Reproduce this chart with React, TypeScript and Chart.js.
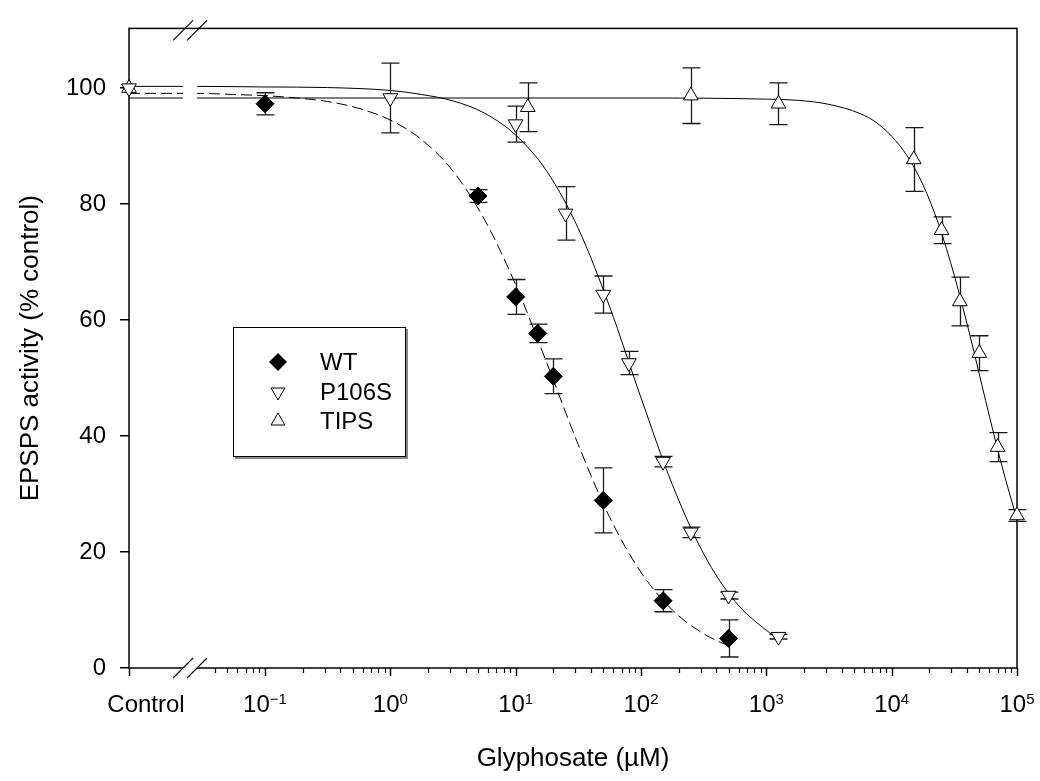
import React, { useEffect, useRef } from "react";
import { Chart, registerables } from "chart.js";

Chart.register(...registerables);

// ---------------- data ----------------
const controlValue = 100;

const wtConc = [0.1, 5, 10, 15, 20, 50, 150, 500];
const wtMean = [97.3, 81.4, 64.0, 57.7, 50.3, 28.9, 11.6, 5.1];
const wtErr = [1.9, 1.1, 3.0, 1.6, 3.0, 5.6, 1.9, 3.2];

const p106sConc = [1, 10, 25, 50, 80, 150, 250, 500, 1250];
const p106sMean = [98.3, 93.8, 78.4, 64.4, 52.6, 35.6, 23.4, 12.5, 5.4];
const p106sErr = [6.0, 3.1, 4.6, 3.2, 2.0, 0.9, 0.9, 0.6, 0.4];

const tipsConc = [12.5, 250, 1250, 15000, 25000, 35000, 50000, 70000, 100000];
const tipsMean = [96.7, 98.7, 97.3, 87.7, 75.5, 63.2, 54.3, 38.1, 26.3];
const tipsErr = [4.2, 4.8, 3.6, 5.5, 2.3, 4.2, 3.0, 2.5, 1.0];

// fitted curves
const wtCurveConc = [0.0287, 0.0562, 0.1, 0.178, 0.316, 0.562, 1, 1.78, 3.16, 5.62, 10, 17.8, 31.6, 56.2, 100, 178, 316, 500];
const wtCurveVal = [99.1, 98.9, 98.7, 98.3, 97.7, 96.5, 94.5, 91.1, 85.7, 77.4, 66.1, 52.5, 38.5, 26.0, 16.5, 10.0, 5.9, 3.8];

const p106sCurveConc = [0.0287, 0.1, 0.316, 1, 1.78, 3.16, 5.62, 10, 17.8, 31.6, 56.2, 100, 178, 316, 562, 1000, 1250];
const p106sCurveVal = [100.3, 100.2, 100.1, 99.6, 98.9, 97.8, 95.7, 91.9, 85.6, 75.8, 62.3, 46.6, 31.6, 19.7, 11.5, 6.5, 5.1];

const tipsCurveConc = [0.0287, 1, 100, 1000, 1780, 3160, 5620, 7500, 10000, 13300, 17800, 23700, 31600, 42200, 56200, 75000, 100000];
const tipsCurveVal = [98.3, 98.3, 98.3, 98.1, 97.9, 97.2, 95.6, 94.1, 91.7, 88.3, 83.3, 76.5, 67.7, 57.3, 46.1, 35.2, 25.6];

const xTickExponents = [-1, 0, 1, 2, 3, 4, 5];
const yTickValues = [0, 20, 40, 60, 80, 100];
const legendLabels = ["WT", "P106S", "TIPS"];
const controlLabel = "Control";
const xTitle = "Glyphosate (\u00B5M)";
const yTitle = "EPSPS activity (% control)";

// ---------------- layout ----------------
const W = 1040;
const H = 781;
const FONT = "'Liberation Sans', Arial, Helvetica, sans-serif";
const TICK_PX = 24;
const SUP_PX = 15;
const TITLE_PX = 26;
const CONTROL_X = Math.pow(10, -2.085);
const X_MAX = 1e5;
const Y_MAX = 110.3;
const BREAK_FROM = 0.0222;
const BREAK_TO = 0.0287;

const pts = (c: number[], v: number[]) => c.map((x, i) => ({ x, y: v[i] }));

const framePlugin = {
  id: "frameAndBars",
  beforeDatasetsDraw(chart: any) {
    const { ctx, chartArea: a, scales } = chart;
    const xs = scales.x;
    const ys = scales.y;
    ctx.save();
    ctx.strokeStyle = "#000";
    ctx.lineWidth = 1.5;
    ctx.strokeRect(a.left, a.top, a.right - a.left, a.bottom - a.top);
    // error bars
    ctx.strokeStyle = "#1a1a1a";
    ctx.lineWidth = 1.3;
    chart.data.datasets.forEach((ds: any) => {
      const errs = ds.errors as number[] | undefined;
      if (!errs) return;
      ds.data.forEach((p: any, i: number) => {
        const e = errs[i];
        if (!e) return;
        const x = Math.round(xs.getPixelForValue(p.x)) + 0.5;
        const y1 = ys.getPixelForValue(p.y + e);
        const y2 = ys.getPixelForValue(p.y - e);
        ctx.beginPath();
        ctx.moveTo(x, y1);
        ctx.lineTo(x, y2);
        ctx.moveTo(x - 9, y1);
        ctx.lineTo(x + 9, y1);
        ctx.moveTo(x - 9, y2);
        ctx.lineTo(x + 9, y2);
        ctx.stroke();
      });
    });
    ctx.restore();
  },
  afterDatasetsDraw(chart: any) {
    const { ctx, chartArea: a, scales } = chart;
    const xs = scales.x;
    ctx.save();
    // axis break
    const b1 = xs.getPixelForValue(BREAK_FROM);
    const b2 = xs.getPixelForValue(BREAK_TO);
    ctx.fillStyle = "#fff";
    ctx.fillRect(b1, a.top + 1.5, b2 - b1, a.bottom - a.top + 1.5);
    ctx.strokeStyle = "#000";
    ctx.lineWidth = 1.1;
    [a.top + 2, a.bottom].forEach((yy) => {
      [b1, b2].forEach((xx) => {
        ctx.beginPath();
        ctx.moveTo(xx - 10, yy + 10);
        ctx.lineTo(xx + 10, yy - 10);
        ctx.stroke();
      });
    });
    // x ticks
    ctx.lineWidth = 1.5;
    const majors = [CONTROL_X, ...xTickExponents.map((e) => Math.pow(10, e))];
    majors.forEach((v) => {
      const x = Math.round(xs.getPixelForValue(v)) + 0.5;
      ctx.beginPath();
      ctx.moveTo(x, a.bottom);
      ctx.lineTo(x, a.bottom + 8);
      ctx.stroke();
    });
    ctx.lineWidth = 1.2;
    for (let e = -2; e <= 4; e++) {
      for (let k = 2; k <= 9; k++) {
        const v = k * Math.pow(10, e);
        if (v < BREAK_TO * 1.3 || v >= X_MAX) continue;
        const x = Math.round(xs.getPixelForValue(v)) + 0.5;
        ctx.beginPath();
        ctx.moveTo(x, a.bottom);
        ctx.lineTo(x, a.bottom + 5);
        ctx.stroke();
      }
    }
    // x labels
    ctx.fillStyle = "#000";
    ctx.textBaseline = "alphabetic";
    const baseY = a.bottom + 44;
    ctx.font = `${TICK_PX}px ${FONT}`;
    ctx.textAlign = "center";
    ctx.fillText(controlLabel, xs.getPixelForValue(CONTROL_X) + 17, baseY);
    xTickExponents.forEach((e) => {
      const x = xs.getPixelForValue(Math.pow(10, e));
      ctx.font = `${TICK_PX}px ${FONT}`;
      const base = "10";
      const wb = ctx.measureText(base).width;
      ctx.font = `${SUP_PX}px ${FONT}`;
      const sup = e < 0 ? "\u2212" + Math.abs(e) : String(e);
      const sw = ctx.measureText(sup).width;
      const start = x - (wb + sw) / 2;
      ctx.textAlign = "left";
      ctx.font = `${TICK_PX}px ${FONT}`;
      ctx.fillText(base, start, baseY);
      ctx.font = `${SUP_PX}px ${FONT}`;
      ctx.fillText(sup, start + wb, baseY - 8);
    });
    // titles
    ctx.font = `${TITLE_PX}px ${FONT}`;
    ctx.textAlign = "center";
    ctx.textBaseline = "alphabetic";
    ctx.fillText(xTitle, (a.left + a.right) / 2, 766);
    ctx.save();
    ctx.translate(38, (a.top + a.bottom) / 2);
    ctx.rotate(-Math.PI / 2);
    ctx.fillText(yTitle, 0, 0);
    ctx.restore();
    // legend
    const L = 233, T = 327, R = 406, B = 457;
    ctx.fillStyle = "#888";
    ctx.fillRect(L + 2, B, R - L, 2);
    ctx.fillRect(R, T + 2, 2, B - T);
    ctx.fillStyle = "#fff";
    ctx.fillRect(L, T, R - L, B - T);
    ctx.strokeStyle = "#000";
    ctx.lineWidth = 1;
    ctx.strokeRect(L + 0.5, T + 0.5, R - L - 1, B - T - 1);
    const rows = [362, 392, 421];
    const mx = 278;
    // WT diamond
    ctx.fillStyle = "#000";
    ctx.beginPath();
    ctx.moveTo(mx - 9, rows[0]);
    ctx.lineTo(mx, rows[0] - 9);
    ctx.lineTo(mx + 9, rows[0]);
    ctx.lineTo(mx, rows[0] + 9);
    ctx.closePath();
    ctx.fill();
    const tri = (cy: number, down: boolean, r: number) => {
      const s = down ? -1 : 1;
      ctx.beginPath();
      ctx.moveTo(mx, cy - s * r);
      ctx.lineTo(mx + r * 0.866, cy + s * r * 0.5);
      ctx.lineTo(mx - r * 0.866, cy + s * r * 0.5);
      ctx.closePath();
      ctx.fillStyle = "#fff";
      ctx.fill();
      ctx.strokeStyle = "#000";
      ctx.lineWidth = 1;
      ctx.stroke();
    };
    tri(rows[1], true, 8);
    tri(rows[2], false, 8);
    ctx.fillStyle = "#000";
    ctx.font = `${TICK_PX}px ${FONT}`;
    ctx.textAlign = "left";
    ctx.textBaseline = "middle";
    legendLabels.forEach((t, i) => ctx.fillText(t, 320, rows[i] + 1));
    ctx.restore();
  },
};

export default function App() {
  const ref = useRef<HTMLCanvasElement | null>(null);

  useEffect(() => {
    if (!ref.current) return;
    const markerBase = {
      showLine: false,
      clip: false as any,
      borderColor: "#000",
      borderWidth: 1,
      pointHoverRadius: 0,
    };
    const curveBase = {
      showLine: true,
      clip: false as any,
      pointRadius: 0,
      borderColor: "#000",
      borderWidth: 1,
      cubicInterpolationMode: "monotone" as const,
      order: 10,
    };
    const chart = new Chart(ref.current, {
      type: "scatter",
      data: {
        datasets: [
          {
            ...markerBase,
            label: "WT",
            data: pts(wtConc, wtMean),
            errors: wtErr,
            pointStyle: "rectRot",
            pointRadius: 9,
            backgroundColor: "#000",
            order: 0,
          } as any,
          {
            ...markerBase,
            label: "P106S",
            data: [{ x: CONTROL_X, y: controlValue }, ...pts(p106sConc, p106sMean)],
            errors: [0, ...p106sErr],
            pointStyle: "triangle",
            pointRotation: 180,
            pointRadius: 8.5,
            backgroundColor: "#fff",
            order: 1,
          } as any,
          {
            ...markerBase,
            label: "TIPS",
            data: [{ x: CONTROL_X, y: controlValue }, ...pts(tipsConc, tipsMean)],
            errors: [0, ...tipsErr],
            pointStyle: "triangle",
            pointRadius: 8.5,
            backgroundColor: "#fff",
            order: 2,
          } as any,
          {
            ...curveBase,
            label: "WT fit",
            data: [{ x: CONTROL_X, y: wtCurveVal[0] }, ...pts(wtCurveConc, wtCurveVal)],
            borderDash: [11, 5],
          } as any,
          {
            ...curveBase,
            label: "P106S fit",
            data: [{ x: CONTROL_X, y: p106sCurveVal[0] }, ...pts(p106sCurveConc, p106sCurveVal)],
          } as any,
          {
            ...curveBase,
            label: "TIPS fit",
            data: [{ x: CONTROL_X, y: tipsCurveVal[0] }, ...pts(tipsCurveConc, tipsCurveVal)],
          } as any,
        ],
      },
      options: {
        responsive: false,
        animation: false,
        devicePixelRatio: 1,
        events: [],
        layout: { padding: { top: 26, right: W - 1017, left: 0, bottom: 0 } },
        plugins: { legend: { display: false }, tooltip: { enabled: false } },
        scales: {
          x: {
            type: "logarithmic",
            min: CONTROL_X,
            max: X_MAX,
            grid: { display: false },
            border: { display: false },
            ticks: { display: false },
            afterFit: (s: any) => {
              s.height = H - 668;
            },
          },
          y: {
            type: "linear",
            min: 0,
            max: Y_MAX,
            afterBuildTicks: (s: any) => {
              s.ticks = yTickValues.map((v) => ({ value: v }));
            },
            grid: {
              display: true,
              drawOnChartArea: false,
              drawTicks: true,
              tickLength: 9,
              color: "#000",
              lineWidth: 1.5,
            },
            border: { display: false },
            ticks: {
              color: "#000",
              padding: 14,
              font: { family: FONT, size: TICK_PX },
              callback: (v: any) => String(v),
            },
            afterFit: (s: any) => {
              s.width = 129;
            },
          },
        },
      },
      plugins: [framePlugin],
    });
    return () => chart.destroy();
  }, []);

  return (
    <div style={{ position: "absolute", left: 0, top: 0, width: W, height: H, background: "#fff" }}>
      <canvas ref={ref} width={W} height={H} style={{ display: "block" }} />
    </div>
  );
}
